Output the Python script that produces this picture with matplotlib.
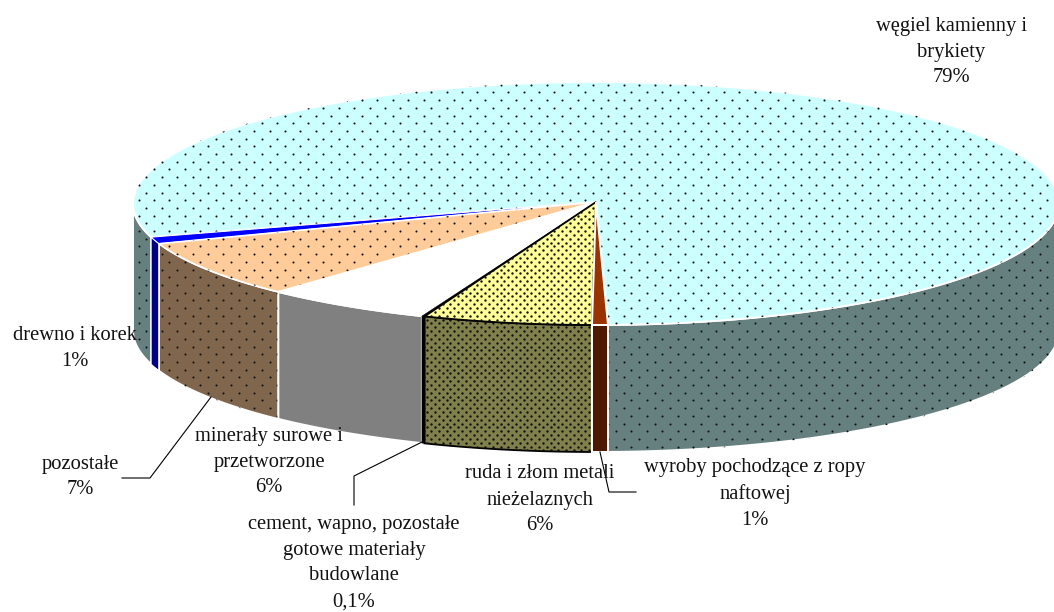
import matplotlib
matplotlib.use('Agg')
import matplotlib.pyplot as plt
import numpy as np
from matplotlib.patches import Polygon

plt.rcParams['font.family'] = ['Liberation Serif', 'DejaVu Serif']

# wartosci, kolejnosc zgodna z ruchem wskazowek zegara
nazwy = ['węgiel kamienny i\nbrykiety', 'wyroby pochodzące z ropy\nnaftowej',
         'ruda i złom metali\nnieżelaznych', 'cement, wapno, pozostałe\ngotowe materiały\nbudowlane',
         'minerały surowe i\nprzetworzone', 'pozostałe', 'drewno i korek']
wartosci = [79.1, 0.55, 5.9, 0.1, 5.9, 7.6, 0.9]
procenty = ['79%', '1%', '6%', '0,1%', '6%', '7%', '1%']

kolory_gora = ['#ccffff', '#993300', '#ffff99', '#000000', '#ffffff', '#ffcc99', '#0000ff']
kolory_bok = ['#668080', '#4d1a00', '#80804d', '#000000', '#808080', '#80664d', '#000080']
krawedzie = ['white', 'white', 'black', 'black', 'white', 'white', 'white']
grubosci = [1.4, 1.4, 1.3, 0.3, 1.4, 1.2, 0.7]
kropki = [1, 0, 2, 0, 0, 1, 0]
poz_tekstu = [(951, 52), (755, 494), (540, 500), (354, 563), (269, 462), (80, 477), (75, 349)]
linie = [None, [(600, 452), (609, 492), (636, 492)], None, [(424, 441), (354, 476), (354, 505)],
         None, [(211, 397), (150, 478), (122, 478)], None]

cx, cy, rx, ry = 596, 203.5, 463, 121.5
glebokosc = 127
start = 73.9  # stopnie od dolu tarczy, zgodnie z zegarem


def punkty(t, dy=0):
    t = np.radians(t)
    return np.column_stack([cx - rx * np.sin(t), cy + ry * np.cos(t) + dy])


def dodaj_kropki(ax, poly, gestosc):
    krok_x, krok_y = 15.4 / gestosc, 7.7 / gestosc
    (x0, y0), (x1, y1) = poly.get_xy().min(axis=0), poly.get_xy().max(axis=0)
    wiersze = np.arange(0, y1 + krok_y, krok_y)
    xs, ys = [], []
    for i, y in enumerate(wiersze):
        if y < y0 - krok_y:
            continue
        kol = np.arange((i % 2) * krok_x / 2, x1 + krok_x, krok_x)
        kol = kol[kol > x0 - krok_x]
        xs.extend(kol)
        ys.extend([y] * len(kol))
    rozmiar = 2.2 if gestosc == 1 else 3.0
    pts = ax.scatter(xs, ys, s=rozmiar, c='#111111', linewidths=0, zorder=poly.get_zorder())
    pts.set_clip_path(poly)


def rysuj(ax, poly, gestosc):
    ax.add_patch(poly)
    if gestosc:
        dodaj_kropki(ax, poly, gestosc)


fig = plt.figure(figsize=(10.54, 6.12), dpi=100)
ax = fig.add_axes([0, 0, 1, 1])
ax.set_xlim(0, 1054)
ax.set_ylim(612, 0)
ax.axis('off')

udzialy = np.array(wartosci) / sum(wartosci) * 360
granice = start + np.concatenate([[0], np.cumsum(udzialy)])

# kolejnosc rysowania: wegiel, potem od drewna wstecz, zeby ruda przykryla sasiadow
kolejnosc = [0, 6, 5, 4, 3, 2, 1]
z = 2
for i in kolejnosc:
    a, b = granice[i], granice[i + 1]
    lw = grubosci[i]
    # widoczne fragmenty boku (przod tarczy)
    for lo, hi in [(-90, 90), (270, 450)]:
        t0, t1 = max(a, lo), min(b, hi)
        if t1 <= t0:
            continue
        t = np.linspace(t0, t1, 80)
        bok = np.vstack([punkty(t), punkty(t[::-1], glebokosc)])
        rysuj(ax, Polygon(bok, closed=True, facecolor=kolory_bok[i], edgecolor=krawedzie[i],
                          linewidth=lw, zorder=z), kropki[i])
    t = np.linspace(a, b, 200)
    gora = np.vstack([[cx, cy - 1.5], punkty(t)])
    rysuj(ax, Polygon(gora, closed=True, facecolor=kolory_gora[i], edgecolor=krawedzie[i],
                      linewidth=lw, zorder=z + 1), kropki[i])
    z += 2

for linia in linie:
    if linia:
        xy = np.array(linia)
        ax.plot(xy[:, 0], xy[:, 1], color='black', lw=0.8, zorder=30)

for nazwa, proc, (x, y) in zip(nazwy, procenty, poz_tekstu):
    ax.text(x, y, nazwa + '\n' + proc, ha='center', va='center', ma='center', fontsize=14.8,
            linespacing=1.5, color='#111111', zorder=40)

fig.savefig('out.png', dpi=100)
